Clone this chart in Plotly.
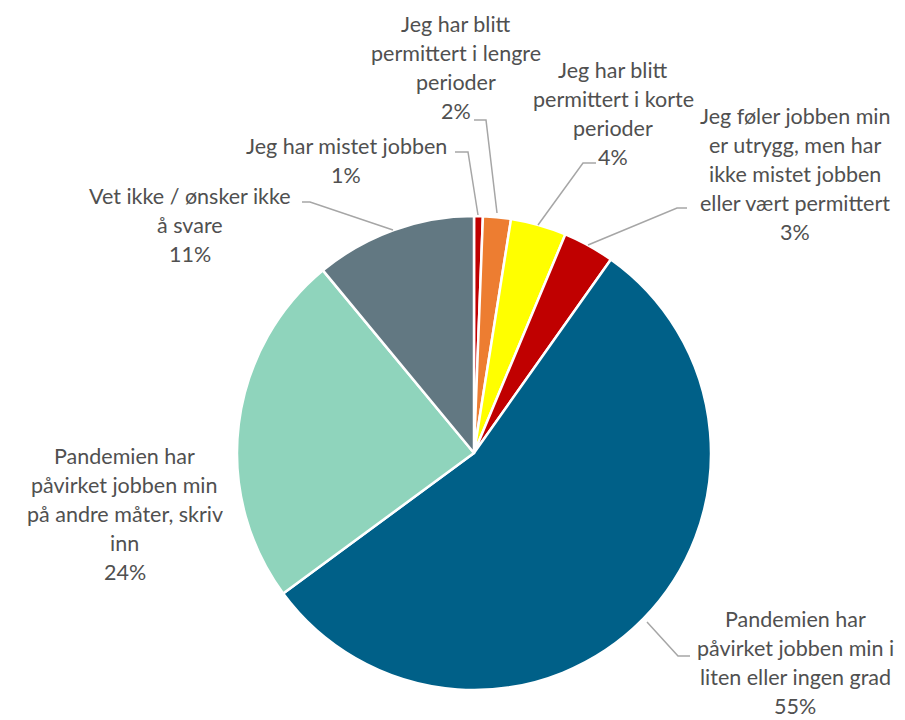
import plotly.graph_objects as go

# answers, clockwise from 12 o'clock
labels = [
    "Jeg har mistet jobben",
    "Jeg har blitt permittert i lengre perioder",
    "Jeg har blitt permittert i korte perioder",
    "Jeg føler jobben min er utrygg, men har ikke mistet jobben eller vært permittert",
    "Pandemien har påvirket jobben min i liten eller ingen grad",
    "Pandemien har påvirket jobben min på andre måter, skriv inn",
    "Vet ikke / ønsker ikke å svare",
]
shares = [0.6, 1.9, 3.8, 3.5, 55.1, 24.1, 11.0]
pct_text = ["1%", "2%", "4%", "3%", "55%", "24%", "11%"]
colors = ["#c00000", "#ed7d31", "#ffff00", "#c00000", "#006088", "#8fd4bc", "#627882"]

# wrapped label lines as shown next to the pie
label_lines = [
    ["Jeg har mistet jobben"],
    ["Jeg har blitt", "permittert i lengre", "perioder"],
    ["Jeg har blitt", "permittert i korte", "perioder"],
    ["Jeg føler jobben min", "er utrygg, men har", "ikke mistet jobben", "eller vært permittert"],
    ["Pandemien har", "påvirket jobben min i", "liten eller ingen grad"],
    ["Pandemien har", "påvirket jobben min", "på andre måter, skriv", "inn"],
    ["Vet ikke / ønsker ikke", "å svare"],
]

W, H = 905, 720
OFF = 8  # page body margin in the browser
# label block: centre x, y of first line (screen pixels)
label_pos = [(346, 146), (456, 24), (613, 70), (795, 116), (795, 619), (125, 456), (190, 196)]
# leader polylines (screen pixels)
leaders = [
    [(455, 152), (468, 152), (478, 215)],
    [(474, 120), (486, 120), (497, 213)],
    [(596, 163), (583, 163), (538, 225)],
    [(687, 208), (677, 208), (588, 245)],
    [(690, 656), (678, 656), (647, 622)],
    None,
    [(302, 202), (310, 202), (393, 230)],
]
LINE = 29
FONT = dict(family="Lato, 'Open Sans', sans-serif", size=21.5, color="#505050")


def px(x, y):
    return (x - OFF) / W, 1 - (y - OFF) / H


fig = go.Figure()
cx0, cy0, r = 474 - OFF, 453 - OFF, 237
fig.add_trace(
    go.Pie(
        labels=labels,
        values=shares,
        sort=False,
        direction="clockwise",
        rotation=0,
        marker=dict(colors=colors, line=dict(color="white", width=2.5)),
        textinfo="none",
        hoverinfo="label+percent",
        domain=dict(x=[(cx0 - r) / W, (cx0 + r) / W],
                    y=[1 - (cy0 + r) / H, 1 - (cy0 - r) / H]),
        showlegend=False,
    )
)

annotations = []
for lines, pct, (cx, cy) in zip(label_lines, pct_text, label_pos):
    for i, t in enumerate(lines + [pct]):
        x, y = px(cx, cy + i * LINE)
        annotations.append(dict(x=x, y=y, xref="paper", yref="paper", text=t,
                                showarrow=False, xanchor="center", yanchor="middle",
                                font=FONT))

shapes = []
for pts in leaders:
    if pts is None:
        continue
    path = "M " + " L ".join(f"{px(x, y)[0]},{px(x, y)[1]}" for x, y in pts)
    shapes.append(dict(type="path", path=path, xref="paper", yref="paper",
                       line=dict(color="#a6a6a6", width=1.5)))

fig.update_layout(
    width=W,
    height=H,
    margin=dict(l=0, r=0, t=0, b=0),
    paper_bgcolor="white",
    plot_bgcolor="white",
    annotations=annotations,
    shapes=shapes,
)

fig.write_html("out.html")
